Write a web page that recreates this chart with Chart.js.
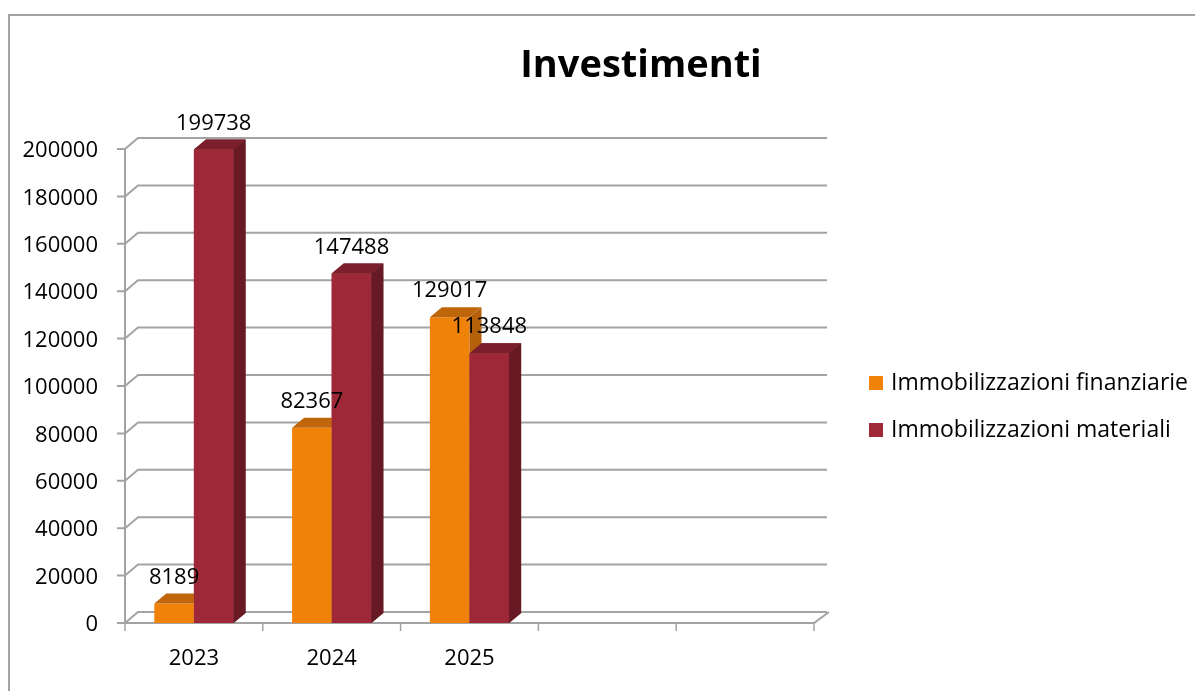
<!DOCTYPE html>
<html>
<head>
<meta charset="utf-8">
<title>Investimenti</title>
<script src="https://cdn.jsdelivr.net/npm/chart.js@4.4.1/dist/chart.umd.min.js"></script>
<style>
  html, body { margin: 0; padding: 0; background: #fff; }
  #wrap { width: 1195px; height: 691px; }
</style>
</head>
<body>
<div id="wrap"><canvas id="chart"></canvas></div>
<script>
// Chart data
const years = ["2023", "2024", "2025", "", ""];
const finanziarie = [8189, 82367, 129017];
const materiali = [199738, 147488, 113848];
const yTickValues = [0, 20000, 40000, 60000, 80000, 100000, 120000, 140000, 160000, 180000, 200000];
const seriesNames = ["Immobilizzazioni finanziarie", "Immobilizzazioni materiali"];

const FONT = "'Open Sans', sans-serif";
const GRID = "#a3a3a3";

// faces for the fake 3d look: [front, top, side]
const faces = [
  ["#f0820a", "#c0660a", "#b5600a"],
  ["#9e2837", "#7c1f2c", "#671a24"],
];

function drawFaces(ctx, bar, c) {
  const dx = 12, dy = 10;
  const l = bar.x - bar.width / 2, r = bar.x + bar.width / 2;
  ctx.fillStyle = c[1];
  ctx.beginPath();
  ctx.moveTo(l, bar.y);
  ctx.lineTo(l + dx, bar.y - dy);
  ctx.lineTo(r + dx, bar.y - dy);
  ctx.lineTo(r, bar.y);
  ctx.closePath();
  ctx.fill();
  ctx.fillStyle = c[2];
  ctx.beginPath();
  ctx.moveTo(r, bar.y);
  ctx.lineTo(r + dx, bar.y - dy);
  ctx.lineTo(r + dx, bar.base - dy);
  ctx.lineTo(r, bar.base);
  ctx.closePath();
  ctx.fill();
}

// back wall gridlines, floor and frame
const wallPlugin = {
  id: "wall",
  beforeDatasetsDraw(chart) {
    const ctx = chart.ctx;
    const y = chart.scales.y;
    const left = chart.chartArea.left, right = chart.chartArea.right;
    const dx = 13, dy = 11;
    ctx.save();
    ctx.strokeStyle = GRID;
    ctx.lineWidth = 2;
    // frame
    ctx.beginPath();
    ctx.moveTo(9, 691);
    ctx.lineTo(9, 15);
    ctx.lineTo(1195, 15);
    ctx.stroke();
    yTickValues.forEach((v) => {
      const py = y.getPixelForValue(v);
      ctx.beginPath();
      ctx.moveTo(left - 8, py);
      ctx.lineTo(left, py);
      ctx.lineTo(left + dx, py - dy);
      ctx.lineTo(right + dx, py - dy);
      ctx.stroke();
    });
    // y axis line
    ctx.beginPath();
    ctx.moveTo(left, y.getPixelForValue(200000));
    ctx.lineTo(left, y.getPixelForValue(0));
    ctx.stroke();
    // floor front edge
    const p0 = y.getPixelForValue(0);
    ctx.beginPath();
    ctx.moveTo(left, p0);
    ctx.lineTo(right, p0);
    ctx.lineTo(right + dx + 2, p0 - dy);
    ctx.stroke();
    // category ticks
    const w = (right - left) / years.length;
    ctx.lineWidth = 1.5;
    for (let i = 0; i <= years.length; i++) {
      const px = left + i * w;
      ctx.beginPath();
      ctx.moveTo(px, p0);
      ctx.lineTo(px, p0 + 8);
      ctx.stroke();
    }
    ctx.restore();
  },
  afterDatasetDraw(chart, args) {
    const ctx = chart.ctx;
    ctx.save();
    args.meta.data.forEach((bar) => drawFaces(ctx, bar, faces[args.index]));
    ctx.restore();
  },
  afterDatasetsDraw(chart) {
    const ctx = chart.ctx;
    ctx.save();
    // the right hand (red) bars sit in front of the orange side faces
    chart.getDatasetMeta(1).data.forEach((bar) => {
      bar.draw(ctx);
      drawFaces(ctx, bar, faces[1]);
    });
    ctx.fillStyle = "#000";
    ctx.font = "22px " + FONT;
    ctx.textAlign = "center";
    ctx.textBaseline = "middle";
    chart.data.datasets.forEach((ds, i) => {
      chart.getDatasetMeta(i).data.forEach((bar, j) => {
        ctx.fillText(String(ds.data[j]), bar.x, bar.y - 26);
      });
    });
    ctx.restore();
  },
  afterDraw(chart) {
    const ctx = chart.ctx;
    ctx.save();
    // title
    ctx.fillStyle = "#000";
    ctx.font = "bold 38px " + FONT;
    ctx.textAlign = "center";
    ctx.textBaseline = "alphabetic";
    ctx.fillText("Investimenti", 641, 77);
    // legend
    ctx.font = "23px " + FONT;
    ctx.textAlign = "left";
    ctx.textBaseline = "middle";
    seriesNames.forEach((name, i) => {
      const cy = 383 + i * 47;
      ctx.fillStyle = faces[i][0];
      ctx.fillRect(869, cy - 7, 14, 14);
      ctx.fillStyle = "#000";
      ctx.fillText(name, 891, cy);
    });
    ctx.restore();
  },
};

new Chart(document.getElementById("chart"), {
  type: "bar",
  data: {
    labels: years,
    datasets: [
      { label: seriesNames[0], data: finanziarie, backgroundColor: faces[0][0] },
      { label: seriesNames[1], data: materiali, backgroundColor: faces[1][0] },
    ],
  },
  options: {
    responsive: true,
    maintainAspectRatio: false,
    animation: false,
    categoryPercentage: 0.575,
    barPercentage: 1,
    layout: { padding: { left: 0, top: 149, right: 381, bottom: 0 } },
    plugins: {
      legend: { display: false },
      title: { display: false },
      tooltip: { enabled: false },
    },
    scales: {
      x: {
        grid: { display: false, drawTicks: false },
        border: { display: false },
        ticks: { color: "#000", font: { family: FONT, size: 22 }, padding: 23 },
        afterFit: (s) => { s.height = 68; },
      },
      y: {
        min: 0,
        max: 200000,
        grid: { display: false, drawTicks: false },
        border: { display: false },
        afterBuildTicks: (s) => { s.ticks = yTickValues.map((v) => ({ value: v })); },
        ticks: {
          color: "#000",
          font: { family: FONT, size: 22 },
          padding: 27,
          labelOffset: 2,
          callback: (v) => String(v),
        },
        afterFit: (s) => { s.width = 125; },
      },
    },
  },
  plugins: [wallPlugin],
});
</script>
</body>
</html>
